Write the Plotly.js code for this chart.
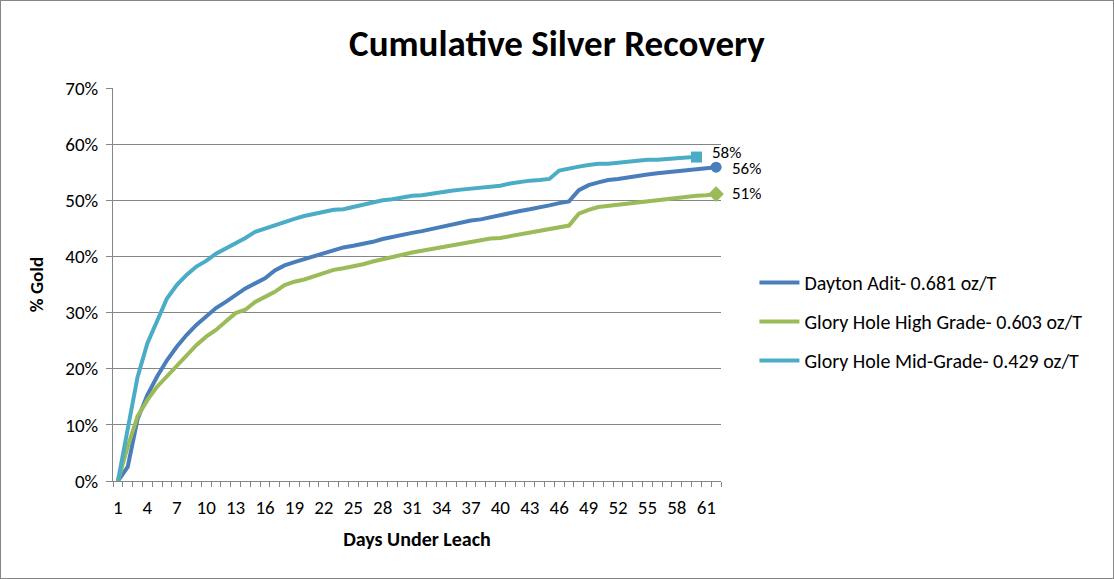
<!DOCTYPE html>
<html>
<head>
<meta charset="utf-8">
<script src="https://cdn.plot.ly/plotly-3.0.1.min.js"></script>
<style>
  html, body { margin: 0; padding: 0; background: #fff; }
  #chart { width: 1112px; height: 577px; border: 1px solid #868686; }
</style>
</head>
<body>
<div id="chart"></div>
<script>
// Days under leach (category axis)
const daysAll = Array.from({length: 62}, (_, i) => i + 1);
const tickDays = [1, 4, 7, 10, 13, 16, 19, 22, 25, 28, 31, 34, 37, 40, 43, 46, 49, 52, 55, 58, 61];

// Cumulative recovery, percent
const daytonAdit = [0, 2.5, 11, 15.3, 18.6, 21.5, 23.9, 26.0, 27.8, 29.3,
  30.8, 31.9, 33.2, 34.3, 35.2, 36.1, 37.5, 38.4, 39.0, 39.5,
  40.0, 40.6, 41.1, 41.6, 41.9, 42.2, 42.6, 43.1, 43.5, 43.8,
  44.2, 44.5, 44.9, 45.2, 45.6, 46.0, 46.4, 46.6, 47.0, 47.3,
  47.7, 48.1, 48.4, 48.7, 49.1, 49.5, 49.8, 51.8, 52.7, 53.2,
  53.6, 53.8, 54.1, 54.3, 54.6, 54.8, 55.0, 55.2, 55.4, 55.6,
  55.8, 55.9];
const gloryHighGrade = [0, 6.1, 11.5, 14.4, 16.8, 18.6, 20.4, 22.4, 24.2, 25.7,
  26.9, 28.4, 29.9, 30.5, 31.9, 32.8, 33.7, 34.9, 35.5, 35.9,
  36.5, 37.1, 37.6, 37.9, 38.2, 38.6, 39.1, 39.5, 40.0, 40.3,
  40.7, 41.0, 41.3, 41.7, 42.0, 42.3, 42.6, 42.9, 43.2, 43.3,
  43.6, 44.0, 44.2, 44.6, 44.9, 45.1, 45.5, 47.6, 48.3, 48.8,
  49.0, 49.2, 49.4, 49.6, 49.8, 50.0, 50.3, 50.5, 50.6, 50.8,
  50.9, 51.1];
const gloryMidGrade = [0, 9.5, 18.5, 24.5, 28.5, 32.5, 34.9, 36.7, 38.2, 39.2,
  40.5, 41.4, 42.5, 43.3, 44.4, 45.0, 45.6, 46.2, 46.7, 47.2,
  47.6, 48.0, 48.3, 48.4, 48.8, 49.2, 49.6, 50.0, 50.2, 50.5,
  50.8, 50.9, 51.2, 51.4, 51.7, 51.9, 52.1, 52.2, 52.4, 52.6,
  53.0, 53.3, 53.5, 53.6, 53.8, 55.3, 55.7, 56.0, 56.3, 56.5,
  56.5, 56.7, 56.9, 57.1, 57.2, 57.2, 57.4, 57.5, 57.6, 57.7];

const seriesNames = ['Dayton Adit- 0.681 oz/T', 'Glory Hole High Grade- 0.603 oz/T', 'Glory Hole Mid-Grade- 0.429 oz/T'];
const seriesValues = [daytonAdit, gloryHighGrade, gloryMidGrade];
const seriesColors = ['#4A7EBB', '#9BBB59', '#4BACC6'];
const endSymbols = ['circle', 'diamond', 'square'];
const labelYShift = [-1, 1, 5];

const FONT = 'Carlito, Calibri, Lato, sans-serif';
const traces = [];
const annotations = [];
seriesValues.forEach((vals, k) => {
  const xs = daysAll.slice(0, vals.length);
  const ys = vals.map(v => v / 100);
  traces.push({
    x: xs, y: ys, type: 'scatter', mode: 'lines',
    name: seriesNames[k], legendgroup: 'g' + k,
    line: {color: seriesColors[k], width: 4},
    hoverinfo: 'skip'
  });
});
seriesValues.forEach((vals, k) => {
  const last = vals.length - 1;
  traces.push({
    x: [daysAll[last]], y: [vals[last] / 100], type: 'scatter', mode: 'markers',
    showlegend: false, cliponaxis: false,
    marker: {symbol: endSymbols[k], color: seriesColors[k], size: k === 1 ? 12 : 11},
    hoverinfo: 'skip'
  });
  annotations.push({
    x: daysAll[last], y: vals[last] / 100, xref: 'x', yref: 'y',
    text: Math.round(vals[last]) + '%', showarrow: false,
    xanchor: 'left', yanchor: 'middle', xshift: 14, yshift: labelYShift[k],
    font: {family: FONT, size: 17, color: '#000'}
  });
});

const layout = {
  width: 1112, height: 577,
  margin: {l: 112, r: 392, t: 87, b: 97},
  paper_bgcolor: '#fff', plot_bgcolor: '#fff',
  font: {family: FONT, color: '#000', size: 17},
  title: {text: '<b>Cumulative Silver Recovery</b>', font: {family: FONT, size: 37, color: '#000'},
          x: 0.5, xanchor: 'center', xref: 'container', y: 0.927, yanchor: 'middle', yref: 'container'},
  annotations: annotations,
  xaxis: {
    range: [0.5, 62.5], tickmode: 'array', tickvals: tickDays, ticktext: tickDays.map(String),
    ticks: '', showgrid: false, zeroline: false,
    showline: true, linecolor: '#868686', linewidth: 1,
    tickfont: {family: FONT, size: 19, color: '#000'}, ticklabelstandoff: 9,
    minor: {tickmode: 'linear', tick0: 0.5, dtick: 1, ticks: 'outside', ticklen: 5, tickcolor: '#868686', showgrid: false},
    title: {text: '<b>Days Under Leach</b>', font: {family: FONT, size: 20, color: '#000'}, standoff: 14},
    fixedrange: true
  },
  yaxis: {
    range: [0, 0.7], tickmode: 'linear', tick0: 0, dtick: 0.1, tickformat: '.0%',
    showgrid: true, gridcolor: '#868686', gridwidth: 1, zeroline: false,
    showline: true, linecolor: '#868686', linewidth: 1,
    ticks: 'outside', ticklen: 6, tickcolor: '#868686',
    tickfont: {family: FONT, size: 19, color: '#000'}, ticklabelstandoff: 4,
    title: {text: '<b>% Gold</b>', font: {family: FONT, size: 19, color: '#000'}, standoff: 16},
    fixedrange: true
  },
  showlegend: true,
  legend: {
    x: 1.055, xanchor: 'left', y: 0.555, yanchor: 'top',
    font: {family: FONT, size: 20, color: '#000'},
    tracegroupgap: 10, bgcolor: 'rgba(0,0,0,0)', itemwidth: 40
  }
};

Plotly.newPlot('chart', traces, layout, {displayModeBar: false, staticPlot: true});
</script>
</body>
</html>
